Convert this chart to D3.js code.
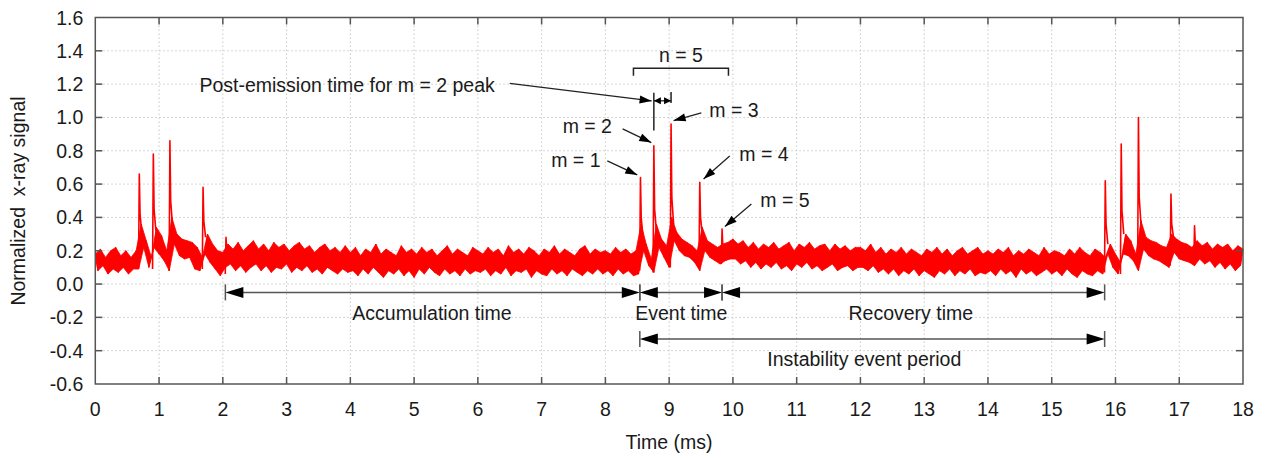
<!DOCTYPE html>
<html>
<head>
<meta charset="utf-8">
<script src="https://cdn.jsdelivr.net/npm/d3@7"></script>
<style>
  body { margin: 0; background: #fff; }
  text { font-family: "Liberation Sans", Arial, sans-serif; fill: #1a1a1a; }
</style>
</head>
<body>
<script>
// x-ray trace: upper edge of the noise band (every 0.08 ms from 0)
const upperSamples = [
  0.18,0.21,0.16,0.20,0.22,0.17,0.20,0.16,0.20,0.36,0.26,0.16,0.34,0.29,0.20,0.40,0.30,0.27,0.26,0.25,0.22,0.16,0.30,0.24,0.20,
  0.19,0.24,0.21,0.25,0.20,0.23,0.26,0.21,0.24,0.20,0.25,0.22,0.24,0.20,0.23,0.25,0.21,0.23,0.19,0.22,0.24,0.20,0.22,0.19,0.23,
  0.19,0.22,0.17,0.21,0.19,0.24,0.18,0.21,0.19,0.17,0.23,0.19,0.21,0.18,0.22,0.19,0.21,0.17,0.20,0.23,0.18,0.21,0.19,0.17,0.22,
  0.20,0.18,0.22,0.19,0.21,0.17,0.23,0.19,0.21,0.18,0.22,0.20,0.17,0.21,0.19,0.23,0.18,0.21,0.19,0.17,0.21,0.23,0.18,0.21,0.19,
  0.20,0.18,0.22,0.19,0.21,0.18,0.20,0.36,0.24,0.15,0.36,0.27,0.23,0.40,0.31,0.27,0.25,0.23,0.20,0.34,0.26,0.24,0.22,0.24,0.25,
  0.27,0.24,0.26,0.22,0.25,0.21,0.24,0.22,0.25,0.21,0.23,0.25,0.20,0.24,0.22,0.25,0.21,0.23,0.24,0.20,0.24,0.21,0.23,0.20,0.22,
  0.22,0.20,0.24,0.19,0.22,0.18,0.21,0.19,0.22,0.18,0.21,0.19,0.17,0.21,0.19,0.22,0.18,0.21,0.17,0.20,0.22,0.18,0.20,0.22,0.18,
  0.20,0.18,0.21,0.19,0.22,0.17,0.20,0.18,0.21,0.19,0.17,0.22,0.18,0.20,0.19,0.17,0.21,0.18,0.22,0.19,0.17,0.21,0.19,0.16,0.24,
  0.18,0.13,0.30,0.26,0.18,0.38,0.28,0.26,0.25,0.23,0.22,0.30,0.27,0.25,0.24,0.22,0.26,0.23,0.25,0.21,0.24,0.22,0.24,0.20,0.23,
  0.21
];
// lower edge of the noise band (every 0.08 ms from 0.04)
const lowerSamples = [
  0.08,0.11,0.06,0.09,0.07,0.10,0.06,0.09,0.09,0.22,0.10,0.22,0.18,0.14,0.08,0.24,0.17,0.15,0.16,0.09,0.08,0.18,0.13,0.09,0.05,
  0.10,0.12,0.08,0.11,0.07,0.10,0.12,0.08,0.11,0.07,0.10,0.09,0.12,0.07,0.10,0.08,0.11,0.07,0.09,0.06,0.10,0.08,0.06,0.09,0.07,
  0.08,0.05,0.09,0.06,0.10,0.07,0.04,0.08,0.06,0.09,0.05,0.08,0.04,0.09,0.06,0.10,0.07,0.05,0.09,0.06,0.08,0.05,0.09,0.06,0.08,
  0.07,0.09,0.05,0.08,0.06,0.10,0.05,0.08,0.07,0.09,0.04,0.08,0.06,0.05,0.09,0.06,0.08,0.05,0.09,0.07,0.05,0.08,0.06,0.09,0.06,
  0.08,0.05,0.09,0.06,0.08,0.05,0.06,0.20,0.11,0.07,0.22,0.16,0.10,0.26,0.20,0.17,0.16,0.13,0.08,0.20,0.16,0.14,0.12,0.14,0.15,
  0.15,0.12,0.14,0.10,0.13,0.09,0.12,0.10,0.13,0.09,0.11,0.08,0.12,0.10,0.13,0.09,0.11,0.08,0.10,0.12,0.08,0.10,0.11,0.08,0.10,
  0.10,0.08,0.11,0.07,0.09,0.06,0.09,0.05,0.08,0.06,0.09,0.05,0.08,0.06,0.04,0.08,0.06,0.09,0.05,0.08,0.06,0.09,0.05,0.07,0.06,
  0.08,0.05,0.09,0.06,0.08,0.04,0.09,0.06,0.08,0.05,0.07,0.09,0.06,0.08,0.05,0.09,0.06,0.04,0.08,0.06,0.05,0.08,0.06,0.18,0.10,
  0.06,0.18,0.17,0.14,0.08,0.21,0.17,0.15,0.14,0.12,0.10,0.19,0.15,0.14,0.13,0.11,0.15,0.12,0.14,0.10,0.13,0.09,0.12,0.08,0.11
];
const sampleStep = 0.04;

// emission peaks
const peakTimes     = [0.69, 0.91, 1.17, 1.69, 2.05, 8.55, 8.76, 9.03, 9.48, 9.83, 15.84, 16.09, 16.36, 16.87, 17.24];
const peakValues    = [0.66, 0.78, 0.86, 0.58, 0.28, 0.64, 0.83, 0.96, 0.61, 0.33, 0.62, 0.84, 1.00, 0.54, 0.35];
const peakShoulders = [0.42, 0.45, 0.50, 0.38, 0.20, 0.40, 0.45, 0.52, 0.40, 0.22, 0.36, 0.44, 0.52, 0.36, 0.24];
const peakTails     = [0.30, 0.32, 0.36, 0.28, 0.16, 0.28, 0.32, 0.36, 0.30, 0.18, 0.24, 0.30, 0.36, 0.28, 0.20];
const peakBases     = [0.10, 0.09, 0.08, 0.09, 0.06, 0.08, 0.07, 0.10, 0.09, 0.12, 0.07, 0.06, 0.09, 0.11, 0.12];

const xTicks = [0,1,2,3,4,5,6,7,8,9,10,11,12,13,14,15,16,17,18];
const yTicks = [-0.6,-0.4,-0.2,0.0,0.2,0.4,0.6,0.8,1.0,1.2,1.4,1.6];

// time spans under the trace
const spanStarts = [2.04, 8.54, 9.83, 8.54];
const spanEnds   = [8.54, 9.83, 15.83, 15.83];
const spanLevels = [-0.05, -0.05, -0.05, -0.33];
const spanLabels = ["Accumulation time", "Event time", "Recovery time", "Instability event period"];
const spanLabelTimes  = [5.28, 9.19, 12.79, 12.06];
const spanLabelLevels = [-0.215, -0.215, -0.215, -0.49];

// m labels
const mLabels = ["m = 1", "m = 2", "m = 3", "m = 4", "m = 5"];
const mLabelTimes  = [7.15, 7.33, 9.63, 10.10, 10.43];
const mLabelLevels = [0.703, 0.907, 1.003, 0.741, 0.463];
const mArrowFrom = [[8.03, 0.739], [8.27, 0.931], [9.505, 1.027], [9.95, 0.769], [10.29, 0.481]];
const mArrowTo   = [[8.50, 0.655], [8.72, 0.849], [9.07, 0.981], [9.54, 0.631], [9.875, 0.345]];

// n bracket and post-emission marker
const nBracket = [8.44, 9.93];
const nLevels = [1.295, 1.25];
const postTimes = [8.76, 9.03];
const postLevel = 1.10;
const postArrow = [[6.50, 1.205], [8.725, 1.099]];

const w = 1265, h = 458;
const x = d3.scaleLinear().domain([0, 18]).range([95.3, 1243]);
const y = d3.scaleLinear().domain([-0.6, 1.6]).range([384, 17.5]);
const axisColor = "#555";

const svg = d3.select("body").append("svg").attr("width", w).attr("height", h);

// grid
svg.append("g").selectAll("line").data(xTicks.slice(1, -1)).enter().append("line")
  .attr("x1", d => x(d)).attr("x2", d => x(d)).attr("y1", y(1.6)).attr("y2", y(-0.6))
  .attr("stroke", "#c8c8c8").attr("stroke-dasharray", "1.5,2.5");
svg.append("g").selectAll("line").data(yTicks.slice(1, -1)).enter().append("line")
  .attr("x1", x(0)).attr("x2", x(18)).attr("y1", d => y(d)).attr("y2", d => y(d))
  .attr("stroke", "#c8c8c8").attr("stroke-dasharray", "1.5,2.5");

// signal band
const upperPts = upperSamples.map((v, k) => [k * 2 * sampleStep, v]);
const lowerPts = lowerSamples.map((v, k) => [k * 2 * sampleStep + sampleStep, v]);
const line = d3.line().x(d => x(d[0])).y(d => y(d[1]));

svg.append("path")
  .attr("d", line(upperPts.concat(lowerPts.slice().reverse())) + "Z")
  .attr("fill", "#ff0000").attr("stroke", "#ff0000").attr("stroke-width", 0.8);

const trace = [];
upperPts.forEach((p, k) => { trace.push(p); if (lowerPts[k]) trace.push(lowerPts[k]); });
svg.append("path").attr("d", line(trace))
  .attr("fill", "none").attr("stroke", "#ff0000").attr("stroke-width", 1);

svg.append("g").selectAll("path").data(peakTimes).enter().append("path")
  .attr("d", (t, i) => line([
    [t - 0.012, peakBases[i]], [t, peakValues[i]],
    [t + 0.012, peakShoulders[i]], [t + 0.04, peakTails[i]]
  ]))
  .attr("fill", "none").attr("stroke", "#ff0000").attr("stroke-width", 1.6)
  .attr("stroke-linejoin", "round");

// frame and ticks
const frame = svg.append("g").attr("stroke", axisColor).attr("stroke-width", 1.5);
frame.append("rect").attr("x", x(0)).attr("y", y(1.6))
  .attr("width", x(18) - x(0)).attr("height", y(-0.6) - y(1.6)).attr("fill", "none");
const tl = 7;
xTicks.slice(1, -1).forEach(d => {
  frame.append("line").attr("x1", x(d)).attr("x2", x(d)).attr("y1", y(-0.6)).attr("y2", y(-0.6) - tl);
  frame.append("line").attr("x1", x(d)).attr("x2", x(d)).attr("y1", y(1.6)).attr("y2", y(1.6) + tl);
});
yTicks.slice(1, -1).forEach(d => {
  frame.append("line").attr("x1", x(0)).attr("x2", x(0) + tl).attr("y1", y(d)).attr("y2", y(d));
  frame.append("line").attr("x1", x(18)).attr("x2", x(18) - tl).attr("y1", y(d)).attr("y2", y(d));
});

// tick labels
svg.append("g").selectAll("text").data(xTicks).enter().append("text")
  .attr("x", d => x(d)).attr("y", 416).attr("text-anchor", "middle")
  .attr("font-size", 19.5).text(d => d);
svg.append("g").selectAll("text").data(yTicks).enter().append("text")
  .attr("x", x(0) - 12).attr("y", d => y(d)).attr("dy", "0.36em").attr("text-anchor", "end")
  .attr("font-size", 19.5).text(d => d.toFixed(1));

svg.append("text").attr("x", 669).attr("y", 449).attr("text-anchor", "middle")
  .attr("font-size", 19.5).text("Time (ms)");
svg.append("text").attr("transform", "translate(25,201) rotate(-90)")
  .attr("text-anchor", "middle").attr("font-size", 19.5).style("white-space", "pre")
  .text("Normalized  x-ray signal");

// annotation helpers
function head(px, py, dir, len, half) {
  // dir = +1 tip on the right, -1 tip on the left
  return `M${px},${py}L${px - dir * len},${py - half}L${px - dir * len},${py + half}Z`;
}
const ann = svg.append("g");

spanStarts.forEach((s, i) => {
  const x0 = x(s), x1 = x(spanEnds[i]), yy = y(spanLevels[i]);
  ann.append("line").attr("x1", x0 + 10).attr("x2", x1 - 10).attr("y1", yy).attr("y2", yy)
    .attr("stroke", axisColor).attr("stroke-width", 1.5);
  [x0, x1].forEach(bx => ann.append("line").attr("x1", bx).attr("x2", bx)
    .attr("y1", yy - 8).attr("y2", yy + 8).attr("stroke", axisColor).attr("stroke-width", 1.5));
  ann.append("path").attr("d", head(x0, yy, -1, 18, 5.5)).attr("fill", "#000");
  ann.append("path").attr("d", head(x1, yy, 1, 18, 5.5)).attr("fill", "#000");
  ann.append("text").attr("x", x(spanLabelTimes[i])).attr("y", y(spanLabelLevels[i]))
    .attr("text-anchor", "middle").attr("font-size", 19.5).text(spanLabels[i]);
});

svg.append("defs").append("marker").attr("id", "tip")
  .attr("markerUnits", "userSpaceOnUse").attr("markerWidth", 14).attr("markerHeight", 10)
  .attr("viewBox", "0 -5 12 10").attr("refX", 12).attr("refY", 0).attr("orient", "auto")
  .append("path").attr("d", "M0,-4L12,0L0,4Z").attr("fill", "#000");

mLabels.forEach((lab, i) => {
  ann.append("text").attr("x", x(mLabelTimes[i])).attr("y", y(mLabelLevels[i]))
    .attr("font-size", 19.5).text(lab);
  ann.append("line")
    .attr("x1", x(mArrowFrom[i][0])).attr("y1", y(mArrowFrom[i][1]))
    .attr("x2", x(mArrowTo[i][0])).attr("y2", y(mArrowTo[i][1]))
    .attr("stroke", "#222").attr("stroke-width", 1.3).attr("marker-end", "url(#tip)");
});

// n = 5 bracket
const bx0 = x(nBracket[0]), bx1 = x(nBracket[1]), by0 = y(nLevels[0]), by1 = y(nLevels[1]);
ann.append("path").attr("d", `M${bx0},${by1}L${bx0},${by0}L${bx1},${by0}L${bx1},${by1}`)
  .attr("fill", "none").attr("stroke", "#222").attr("stroke-width", 1.5);
ann.append("text").attr("x", (bx0 + bx1) / 2).attr("y", y(1.335)).attr("text-anchor", "middle")
  .attr("font-size", 19.5).text("n = 5");

// post-emission time marker
const px0 = x(postTimes[0]), px1 = x(postTimes[1]), py = y(postLevel);
ann.append("line").attr("x1", px0).attr("x2", px0).attr("y1", y(1.149)).attr("y2", y(0.921))
  .attr("stroke", "#222").attr("stroke-width", 1.5);
ann.append("line").attr("x1", px1).attr("x2", px1).attr("y1", y(1.153)).attr("y2", y(1.087))
  .attr("stroke", "#222").attr("stroke-width", 1.5);
ann.append("line").attr("x1", px0).attr("x2", px1).attr("y1", py).attr("y2", py)
  .attr("stroke", "#222").attr("stroke-width", 1.3);
ann.append("path").attr("d", head(px0, py, -1, 7, 3.5)).attr("fill", "#000");
ann.append("path").attr("d", head(px1, py, 1, 7, 3.5)).attr("fill", "#000");
ann.append("line")
  .attr("x1", x(postArrow[0][0])).attr("y1", y(postArrow[0][1]))
  .attr("x2", x(postArrow[1][0])).attr("y2", y(postArrow[1][1]))
  .attr("stroke", "#222").attr("stroke-width", 1.3).attr("marker-end", "url(#tip)");
ann.append("text").attr("x", x(6.265)).attr("y", y(1.153)).attr("text-anchor", "end")
  .attr("font-size", 19.5).text("Post-emission time for m = 2 peak");
</script>
</body>
</html>
